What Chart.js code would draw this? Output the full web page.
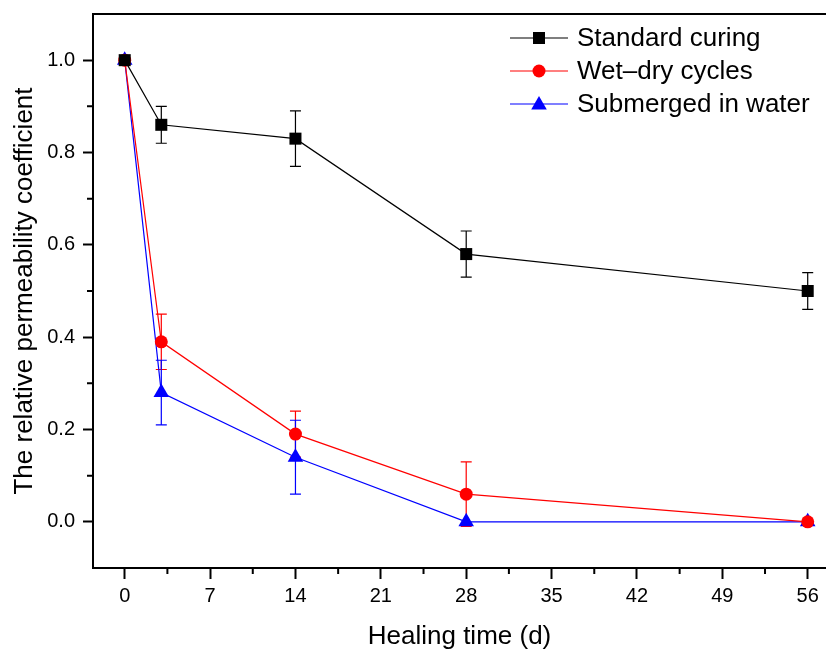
<!DOCTYPE html>
<html>
<head>
<meta charset="utf-8">
<script src="https://cdn.jsdelivr.net/npm/chart.js@4.4.1/dist/chart.umd.min.js"></script>
<style>
  html, body { margin: 0; padding: 0; background: #fff; }
  #wrap { width: 826px; height: 650px; }
</style>
</head>
<body>
<div id="wrap"><canvas id="chart"></canvas></div>
<script>
// healing time (days) and relative permeability coefficient
const days = [0, 3, 14, 28, 56];
const standard = [1.0, 0.86, 0.83, 0.58, 0.50];
const standardErr = [0, 0.04, 0.06, 0.05, 0.04];
const wetDry = [1.0, 0.39, 0.19, 0.06, 0.0];
const wetDryErr = [0, 0.06, 0.05, 0.07, 0];
const submerged = [1.0, 0.28, 0.14, 0.0, 0.0];
const submergedErr = [0, 0.07, 0.08, 0, 0];

const xTicks = [0, 7, 14, 21, 28, 35, 42, 49, 56];
const xMinor = [3.5, 10.5, 17.5, 24.5, 31.5, 38.5, 45.5, 52.5];
const yTicks = [0.0, 0.2, 0.4, 0.6, 0.8, 1.0];
const yMinor = [0.1, 0.3, 0.5, 0.7, 0.9];

const FONT = "'Liberation Sans', Arial, sans-serif";

function toPoints(ys) {
    return days.map((d, i) => ({ x: d, y: ys[i] }));
}

// error bars, drawn under the markers
const errorBars = {
    id: "errorBars",
    beforeDatasetsDraw(chart) {
        const ctx = chart.ctx;
        const xs = chart.scales.x, ys = chart.scales.y;
        chart.data.datasets.forEach(ds => {
            ctx.save();
            ctx.strokeStyle = ds.borderColor;
            ctx.lineWidth = 1.2;
            ds.data.forEach((p, i) => {
                const e = ds.errors[i];
                if (!e) return;
                const x = xs.getPixelForValue(p.x);
                const y1 = ys.getPixelForValue(p.y + e);
                const y2 = ys.getPixelForValue(p.y - e);
                ctx.beginPath();
                ctx.moveTo(x, y1); ctx.lineTo(x, y2);
                ctx.moveTo(x - 5.5, y1); ctx.lineTo(x + 5.5, y1);
                ctx.moveTo(x - 5.5, y2); ctx.lineTo(x + 5.5, y2);
                ctx.stroke();
            });
            ctx.restore();
        });
    }
};

function marker(ctx, style, x, y, color) {
    ctx.fillStyle = color;
    ctx.beginPath();
    if (style === "rect") {
        ctx.rect(x - 6, y - 6, 12, 12);
    } else if (style === "circle") {
        ctx.arc(x, y, 6.5, 0, Math.PI * 2);
    } else {
        ctx.moveTo(x, y - 8);
        ctx.lineTo(x + 7.8, y + 5.5);
        ctx.lineTo(x - 7.8, y + 5.5);
        ctx.closePath();
    }
    ctx.fill();
}

// frame top line, minor ticks and the legend
const extras = {
    id: "extras",
    afterDraw(chart) {
        const ctx = chart.ctx;
        const a = chart.chartArea;
        const xs = chart.scales.x, ys = chart.scales.y;
        ctx.save();
        ctx.strokeStyle = "#000";
        ctx.lineWidth = 2;
        ctx.beginPath();
        ctx.moveTo(a.left - 1, a.top);
        ctx.lineTo(a.right, a.top);
        ctx.stroke();

        ctx.lineWidth = 2;
        ctx.beginPath();
        xMinor.forEach(v => {
            const x = xs.getPixelForValue(v);
            ctx.moveTo(x, a.bottom);
            ctx.lineTo(x, a.bottom + 6);
        });
        yMinor.forEach(v => {
            const y = ys.getPixelForValue(v);
            ctx.moveTo(a.left, y);
            ctx.lineTo(a.left - 6, y);
        });
        ctx.stroke();

        ctx.font = "26px " + FONT;
        ctx.textBaseline = "middle";
        chart.data.datasets.forEach((ds, i) => {
            const y = 38 + i * 33;
            ctx.strokeStyle = ds.borderColor;
            ctx.lineWidth = 1.2;
            ctx.beginPath();
            ctx.moveTo(510, y); ctx.lineTo(568, y);
            ctx.stroke();
            marker(ctx, ds.pointStyle, 539, y, ds.backgroundColor);
            ctx.fillStyle = "#000";
            ctx.fillText(ds.label, 577, y + 1);
        });
        ctx.restore();
    }
};

new Chart(document.getElementById("chart"), {
    type: "line",
    data: {
        datasets: [
            {
                label: "Standard curing", data: toPoints(standard), errors: standardErr,
                borderColor: "#000", backgroundColor: "#000",
                pointStyle: "rect", pointRadius: 8.5
            },
            {
                label: "Wet\u2013dry cycles", data: toPoints(wetDry), errors: wetDryErr,
                borderColor: "#ff0000", backgroundColor: "#ff0000",
                pointStyle: "circle", pointRadius: 6.5
            },
            {
                label: "Submerged in water", data: toPoints(submerged), errors: submergedErr,
                borderColor: "#0000ff", backgroundColor: "#0000ff",
                pointStyle: "triangle", pointRadius: 9
            }
        ].map(ds => Object.assign(ds, { borderWidth: 1.2, pointBorderWidth: 0, tension: 0 }))
    },
    options: {
        responsive: true,
        maintainAspectRatio: false,
        animation: false,
        layout: { autoPadding: false, padding: { top: 14, right: 0, left: 0, bottom: 0 } },
        plugins: { legend: { display: false }, tooltip: { enabled: false } },
        scales: {
            x: {
                type: "linear", min: -2.6, max: 57.5,
                afterBuildTicks: s => { s.ticks = xTicks.map(v => ({ value: v })); },
                afterFit: s => { s.height = 82; s.paddingLeft = 0; s.paddingRight = 0; },
                ticks: { color: "#000", font: { family: FONT, size: 20 }, padding: 5, maxRotation: 0 },
                grid: { drawOnChartArea: false, tickLength: 11, tickColor: "#000", tickWidth: 2, color: "#000" },
                border: { color: "#000", width: 2 },
                title: { display: true, text: "Healing time (d)", color: "#000",
                         font: { family: FONT, size: 26, lineHeight: 1 }, padding: { top: 0, bottom: 0 } }
            },
            y: {
                type: "linear", min: -0.1, max: 1.1,
                afterBuildTicks: s => { s.ticks = yTicks.map(v => ({ value: v })); },
                afterFit: s => { s.width = 93; s.paddingTop = 0; s.paddingBottom = 0; },
                ticks: { color: "#000", font: { family: FONT, size: 20 }, padding: 8,
                         callback: v => v.toFixed(1) },
                grid: { drawOnChartArea: false, tickLength: 10, tickColor: "#000", tickWidth: 2, color: "#000" },
                border: { color: "#000", width: 2 },
                title: { display: true, text: "The relative permeability coefficient", color: "#000",
                         font: { family: FONT, size: 26, lineHeight: 1 }, padding: { top: 12, bottom: 0 } }
            }
        }
    },
    plugins: [errorBars, extras]
});
</script>
</body>
</html>
